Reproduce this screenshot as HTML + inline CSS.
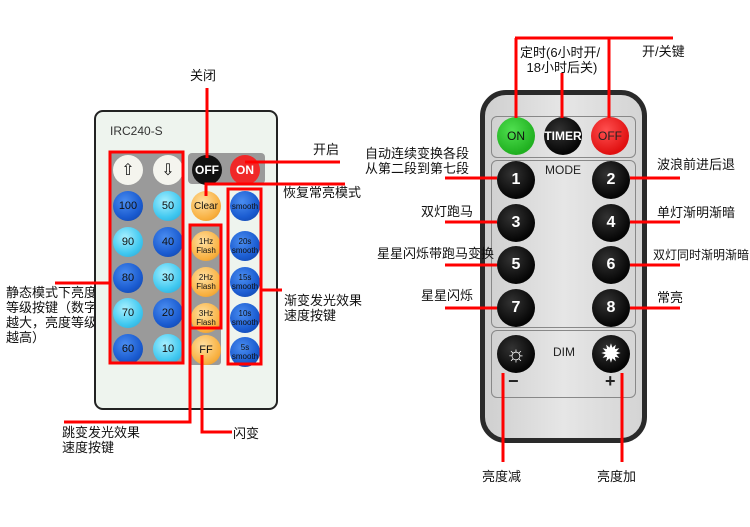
<!DOCTYPE html>
<html><head><meta charset="utf-8"><style>
body{margin:0;width:750px;height:527px;background:#fff;position:relative;overflow:hidden;font-family:"Liberation Sans","Noto Sans CJK SC",sans-serif;}
.a{position:absolute;}
.t{position:absolute;font-size:13px;color:#111;line-height:15px;white-space:nowrap;}
.c{position:absolute;border-radius:50%;display:flex;align-items:center;justify-content:center;text-align:center;font-family:"Liberation Sans",sans-serif;}
.b{width:30px;height:30px;font-size:11px;color:#111;}
.dk{background:radial-gradient(circle at 40% 35%,#4a8df0,#1a5bd0 60%,#0f3f9e);}
.lt{background:radial-gradient(circle at 40% 35%,#a8f0ff,#40c8f0 60%,#2aa0d0);}
.or{background:radial-gradient(circle at 40% 35%,#ffe0a0,#f8b040 65%,#e09020);}
.k{width:38px;height:38px;background:radial-gradient(circle at 40% 35%,#333,#050505 70%);color:#fff;font-weight:bold;font-size:16px;}
</style></head><body>
<div class="t" style="left:6px;top:285px;line-height:15px;">静态模式下亮度<br>等级按键（数字<br>越大，亮度等级<br>越高）</div>
<div class="a" style="left:94px;top:110px;width:180px;height:296px;border:2px solid #222;border-radius:9px;background:#eef4ee;"></div>
<div class="t" style="left:110px;top:124px;font-size:12px;color:#333;">IRC240-S</div>
<div class="a" style="left:110px;top:152px;width:73px;height:211px;background:#9a9a9a;border-radius:3px;"></div>
<div class="a" style="left:188px;top:153px;width:77px;height:31px;background:#9a9a9a;border-radius:4px;"></div>
<div class="a" style="left:189px;top:225px;width:32px;height:140px;background:#9a9a9a;border-radius:3px;"></div>
<div class="c b" style="left:113px;top:155px;background:#f4f4ee;font-size:16px;">⇧</div>
<div class="c b" style="left:153px;top:155px;background:#f4f4ee;font-size:16px;">⇩</div>
<div class="c b dk" style="left:113px;top:191px;">100</div>
<div class="c b lt" style="left:153px;top:191px;">50</div>
<div class="c b lt" style="left:113px;top:227px;">90</div>
<div class="c b dk" style="left:153px;top:227px;">40</div>
<div class="c b dk" style="left:113px;top:263px;">80</div>
<div class="c b lt" style="left:153px;top:263px;">30</div>
<div class="c b lt" style="left:113px;top:298px;">70</div>
<div class="c b dk" style="left:153px;top:298px;">20</div>
<div class="c b dk" style="left:113px;top:334px;">60</div>
<div class="c b lt" style="left:153px;top:334px;">10</div>
<div class="c b" style="left:192px;top:155px;background:#111;color:#fff;font-weight:bold;font-size:12px;">OFF</div>
<div class="c b" style="left:230px;top:155px;background:#f02828;color:#fff;font-weight:bold;font-size:12px;">ON</div>
<div class="c b or" style="left:191px;top:191px;font-size:10px;">Clear</div>
<div class="c b or" style="left:191px;top:231px;font-size:8px;line-height:9px;">1Hz<br>Flash</div>
<div class="c b or" style="left:191px;top:267px;font-size:8px;line-height:9px;">2Hz<br>Flash</div>
<div class="c b or" style="left:191px;top:303px;font-size:8px;line-height:9px;">3Hz<br>Flash</div>
<div class="c b or" style="left:191px;top:335px;">FF</div>
<div class="c b dk" style="left:230px;top:191px;font-size:8px;">smooth</div>
<div class="c b dk" style="left:230px;top:231px;font-size:8px;line-height:9px;">20s<br>smooth</div>
<div class="c b dk" style="left:230px;top:267px;font-size:8px;line-height:9px;">15s<br>smooth</div>
<div class="c b dk" style="left:230px;top:303px;font-size:8px;line-height:9px;">10s<br>smooth</div>
<div class="c b dk" style="left:230px;top:337px;font-size:8px;line-height:9px;">5s<br>smooth</div>
<div class="t" style="left:190px;top:68px;">关闭</div>
<div class="t" style="left:313px;top:142px;">开启</div>
<div class="t" style="left:283px;top:185px;">恢复常亮模式</div>
<div class="t" style="left:284px;top:293px;">渐变发光效果<br>速度按键</div>
<div class="t" style="left:62px;top:425px;">跳变发光效果<br>速度按键</div>
<div class="t" style="left:233px;top:426px;">闪变</div>
<div class="a" style="left:480px;top:90px;width:157px;height:343px;border:5px solid #2a2a2a;border-radius:26px;background:linear-gradient(90deg,#cfcfcf,#e6e6e6 50%,#d4d4d4);"></div>
<div class="a" style="left:491px;top:116px;width:143px;height:40px;border:1px solid #888;border-radius:6px;"></div>
<div class="a" style="left:491px;top:160px;width:143px;height:166px;border:1px solid #888;border-radius:6px;"></div>
<div class="a" style="left:491px;top:330px;width:143px;height:66px;border:1px solid #888;border-radius:6px;"></div>
<div class="c k" style="left:497px;top:117px;background:radial-gradient(circle at 40% 35%,#50e050,#20b020 70%);color:#111;font-weight:normal;font-size:12px;">ON</div>
<div class="c k" style="left:544px;top:117px;font-size:12px;">TIMER</div>
<div class="c k" style="left:591px;top:117px;background:radial-gradient(circle at 40% 35%,#ff5050,#e01010 70%);color:#222;font-weight:normal;font-size:12px;">OFF</div>
<div class="t" style="left:545px;top:163px;font-size:12px;color:#222;">MODE</div>
<div class="c k" style="left:497px;top:161px;">1</div><div class="c k" style="left:592px;top:161px;">2</div>
<div class="c k" style="left:497px;top:204px;">3</div><div class="c k" style="left:592px;top:204px;">4</div>
<div class="c k" style="left:497px;top:246px;">5</div><div class="c k" style="left:592px;top:246px;">6</div>
<div class="c k" style="left:497px;top:289px;">7</div><div class="c k" style="left:592px;top:289px;">8</div>
<div class="c k" style="left:497px;top:335px;font-size:22px;font-weight:normal;">☼</div>
<div class="c k" style="left:592px;top:335px;font-size:22px;">✹</div>
<div class="t" style="left:553px;top:345px;font-size:12px;color:#222;">DIM</div>
<div class="t" style="left:508px;top:374px;font-size:18px;font-weight:bold;color:#222;">−</div>
<div class="t" style="left:605px;top:374px;font-size:18px;font-weight:bold;color:#222;">+</div>
<div class="t" style="left:520px;top:45px;text-align:center;">定时(6小时开/<br>&nbsp;18小时后关)</div>
<div class="t" style="left:642px;top:44px;">开/关键</div>
<div class="t" style="left:365px;top:146px;">自动连续变换各段<br>从第二段到第七段</div>
<div class="t" style="left:421px;top:204px;">双灯跑马</div>
<div class="t" style="left:377px;top:246px;">星星闪烁带跑马变换</div>
<div class="t" style="left:421px;top:288px;">星星闪烁</div>
<div class="t" style="left:657px;top:157px;">波浪前进后退</div>
<div class="t" style="left:657px;top:205px;">单灯渐明渐暗</div>
<div class="t" style="left:653px;top:248px;font-size:12px;">双灯同时渐明渐暗</div>
<div class="t" style="left:657px;top:290px;">常亮</div>
<div class="t" style="left:482px;top:469px;">亮度减</div>
<div class="t" style="left:597px;top:469px;">亮度加</div>
<svg class="a" style="left:0;top:0" width="750" height="527">
<g stroke="#f00" stroke-width="3" fill="none">
<rect x="110" y="152" width="73" height="211"/>
<rect x="190" y="225" width="31" height="103"/>
<rect x="228" y="189" width="33" height="175"/>
<polyline points="55,283 110,283"/>
<polyline points="207,88 207,158"/>
<polyline points="245,162 340,162"/>
<polyline points="206,196 206,184 345,184"/>
<polyline points="261,290 282,290"/>
<polyline points="190,328 190,422 64,422"/>
<polyline points="202,355 202,432 232,432"/>
<polyline points="515,38 673,38"/>
<polyline points="516,38 516,118"/>
<polyline points="609,38 609,118"/>
<polyline points="562,73 562,118"/>
<polyline points="445,178 497,178"/><polyline points="445,222 497,222"/>
<polyline points="445,265 497,265"/><polyline points="445,308 497,308"/>
<polyline points="630,178 680,178"/><polyline points="630,222 680,222"/>
<polyline points="630,265 680,265"/><polyline points="630,308 680,308"/>
<polyline points="503,373 503,462"/><polyline points="622,373 622,462"/>
</g></svg>
</body></html>
